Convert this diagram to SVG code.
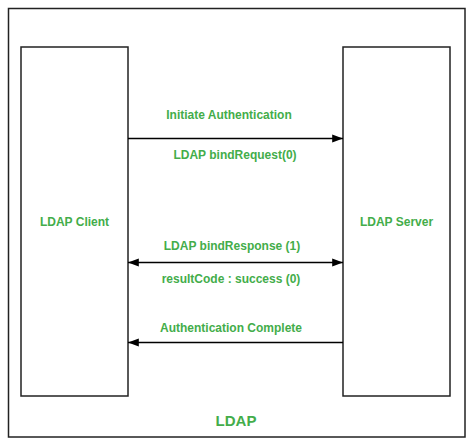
<svg xmlns="http://www.w3.org/2000/svg" width="474" height="445" viewBox="0 0 474 445">
<defs>
<style>
.box{fill:#fff;stroke:#222;stroke-width:1.5}
.lbl{font-family:"Liberation Sans",Arial,sans-serif;font-weight:bold;font-size:12px;fill:#43ad4a;text-anchor:middle}
.ln{stroke:#000;stroke-width:1.5;fill:none}
</style>
<marker id="ah" viewBox="0 0 12 10" refX="12" refY="5" markerWidth="12" markerHeight="9" markerUnits="userSpaceOnUse" orient="auto-start-reverse">
<path d="M0,0.5 L12,5 L0,9.5 Z" fill="#000"/>
</marker>
</defs>
<rect width="474" height="445" fill="#fff"/>
<g id="frame">
<rect class="box" x="8.5" y="8.5" width="456.5" height="428.5" stroke-width="2"/>
<text class="lbl" x="236" y="426" style="font-size:15px">LDAP</text>
</g>
<g id="client">
<rect class="box" x="21" y="47" width="107" height="349"/>
<text class="lbl" x="74.5" y="226">LDAP Client</text>
</g>
<g id="server">
<rect class="box" x="343" y="47" width="107" height="349"/>
<text class="lbl" x="396.5" y="226">LDAP Server</text>
</g>
<g id="connectors">
<line class="ln" x1="128" y1="138.5" x2="343" y2="138.5" marker-end="url(#ah)"/>
<line class="ln" x1="128" y1="262.5" x2="343" y2="262.5" marker-start="url(#ah)" marker-end="url(#ah)"/>
<line class="ln" x1="343" y1="342.5" x2="128" y2="342.5" marker-end="url(#ah)"/>
<text class="lbl" x="229" y="119">Initiate Authentication</text>
<text class="lbl" x="235" y="159">LDAP bindRequest(0)</text>
<text class="lbl" x="232" y="250">LDAP bindResponse (1)</text>
<text class="lbl" x="231" y="283">resultCode : success (0)</text>
<text class="lbl" x="231" y="332">Authentication Complete</text>
</g>
</svg>
